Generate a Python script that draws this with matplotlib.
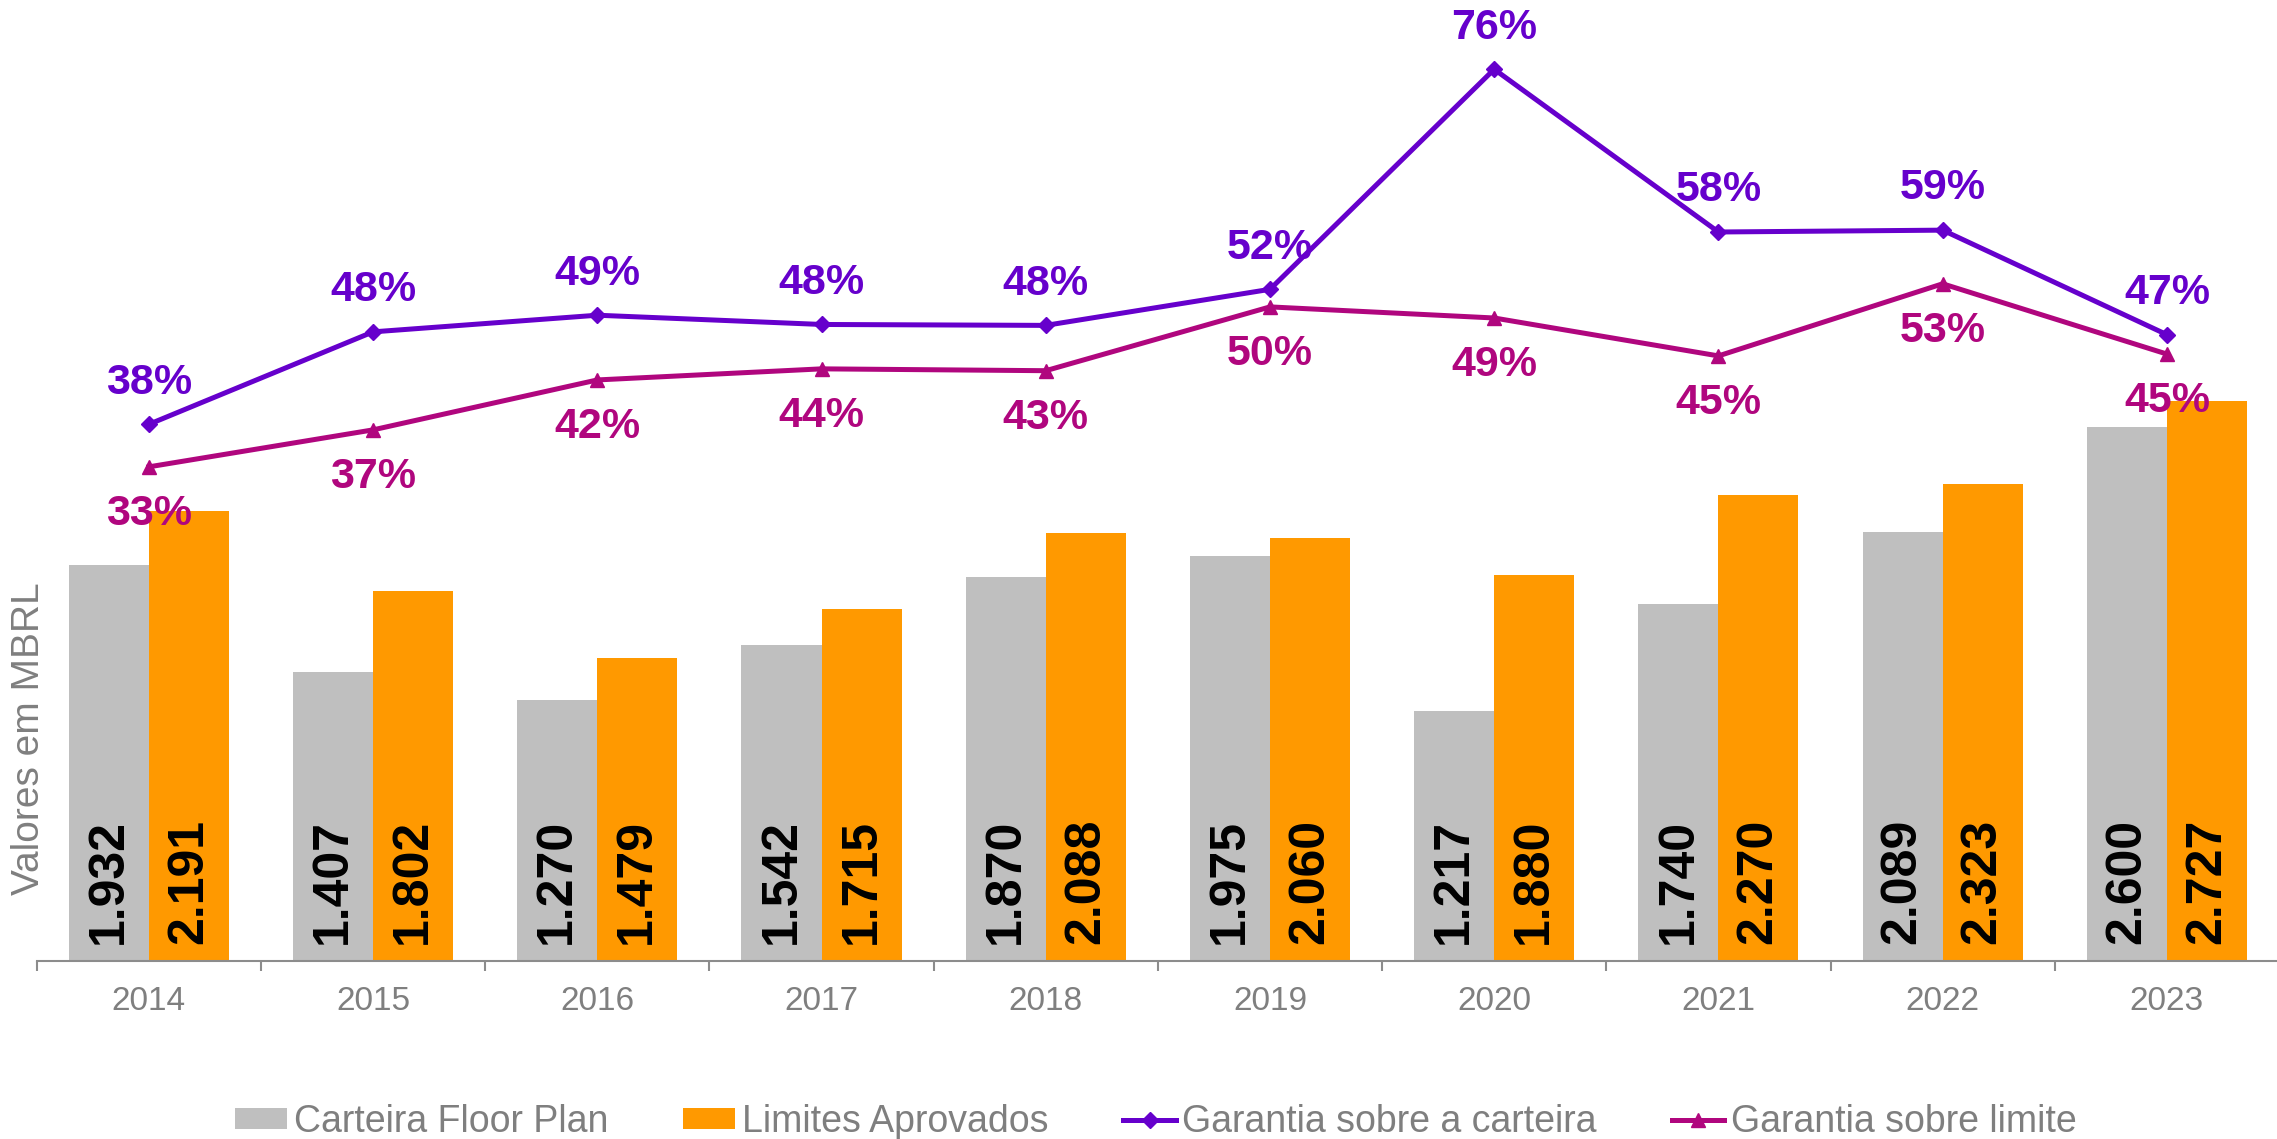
import matplotlib
matplotlib.use("Agg")
import matplotlib.pyplot as plt
import numpy as np

plt.rcParams["font.family"] = ["Liberation Sans", "DejaVu Sans"]

# Data
anos = ["2014", "2015", "2016", "2017", "2018", "2019", "2020", "2021", "2022", "2023"]
carteira = [1932, 1407, 1270, 1542, 1870, 1975, 1217, 1740, 2089, 2600]
limites = [2191, 1802, 1479, 1715, 2088, 2060, 1880, 2270, 2323, 2727]
gar_carteira = [37.6, 47.6, 49.4, 48.4, 48.3, 52.2, 76.0, 58.4, 58.6, 47.3]
gar_limite = [33.0, 37.0, 42.4, 43.6, 43.4, 50.3, 49.1, 45.0, 52.8, 45.2]

GRAY = "#BFBFBF"
ORANGE = "#FF9900"
PURPLE = "#6600CC"
MAGENTA = "#B0067E"
TXT = "#7F7F7F"

W, H = 2277, 1139
fig = plt.figure(figsize=(W / 100, H / 100), dpi=100)
ax = fig.add_axes([36.7 / W, (H - 961) / H, 2242.3 / W, 961 / H])

x = np.arange(len(anos))
bw = 0.357
b1 = ax.bar(x - bw / 2, carteira, bw, color=GRAY, label="Carteira Floor Plan")
b2 = ax.bar(x + bw / 2, limites, bw, color=ORANGE, label="Limites Aprovados")

for bars, vals in ((b1, carteira), (b2, limites)):
    for r, v in zip(bars, vals):
        ax.annotate(f"{v:,}".replace(",", "."),
                    (r.get_x() + r.get_width() / 2, 0),
                    xytext=(0, 12), textcoords="offset points",
                    rotation=90, ha="center", va="bottom",
                    fontsize=36, fontweight="bold", color="black")

ax.set_xlim(-0.5, len(anos) - 0.5)
ax.set_ylim(0, 961 / 0.2052)
ax.set_xticks(x)
ax.set_xticklabels(anos)
ax.set_xticks(np.arange(-0.5, len(anos)), minor=True)
ax.tick_params(axis="x", which="major", length=0, labelsize=24,
               labelcolor=TXT, pad=18)
ax.tick_params(axis="x", which="minor", length=7.2, width=1.5, color="#8C8C8C")
ax.set_yticks([])
for s in ("top", "right", "left"):
    ax.spines[s].set_visible(False)
ax.spines["bottom"].set_color("#8C8C8C")
ax.spines["bottom"].set_linewidth(1.5)

# Secondary axis for the percentages
ax2 = ax.twinx()
ax2.set_ylim(-20.44, 83.49)
l1, = ax2.plot(x, gar_carteira, color=PURPLE, lw=3.6, marker="D", ms=8,
               label="Garantia sobre a carteira")
l2, = ax2.plot(x, gar_limite, color=MAGENTA, lw=3.6, marker="^", ms=10,
               label="Garantia sobre limite")
for xi, v in zip(x, gar_carteira):
    ax2.annotate(f"{v:.0f}%", (xi, v), xytext=(0, 30), textcoords="offset points",
                 ha="center", va="center", fontsize=31, fontweight="bold",
                 color=PURPLE, annotation_clip=False)
for xi, v in zip(x, gar_limite):
    ax2.annotate(f"{v:.0f}%", (xi, v), xytext=(0, -34), textcoords="offset points",
                 ha="center", va="center", fontsize=31, fontweight="bold",
                 color=MAGENTA, annotation_clip=False)
ax2.set_yticks([])
for s in ax2.spines.values():
    s.set_visible(False)

fig.text(29 / W, 1 - 739 / H, "Valores em MBRL", rotation=90, ha="center",
         va="center", fontsize=28, color=TXT)

leg = fig.legend(handles=[b1, b2, l1, l2], loc="center",
                 bbox_to_anchor=(1155.5 / W, 1 - 1122 / H), ncol=4,
                 frameon=False, fontsize=27, handlelength=1.4,
                 handleheight=0.47, handletextpad=0.17, columnspacing=2.0,
                 borderpad=0, borderaxespad=0)
for t in leg.get_texts():
    t.set_color(TXT)

fig.savefig("out.png", dpi=100)
